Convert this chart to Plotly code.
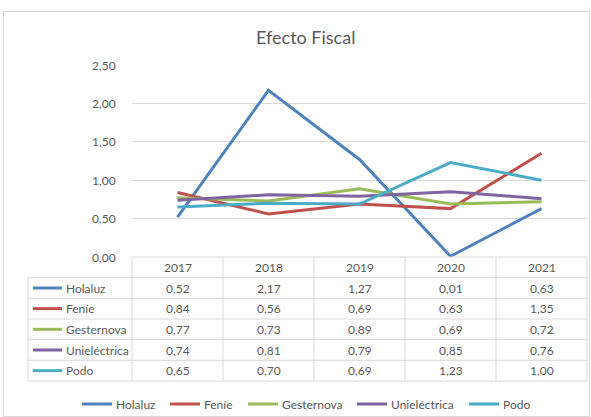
import plotly.graph_objects as go

years = ["2017", "2018", "2019", "2020", "2021"]
series_names = ["Holaluz", "Feníe", "Gesternova", "Unieléctrica", "Podo"]
holaluz = [0.52, 2.17, 1.27, 0.01, 0.63]
fenie = [0.84, 0.56, 0.69, 0.63, 1.35]
gesternova = [0.77, 0.73, 0.89, 0.69, 0.72]
unielectrica = [0.74, 0.81, 0.79, 0.85, 0.76]
podo = [0.65, 0.70, 0.69, 1.23, 1.00]
y_ticks = [0, 0.5, 1.0, 1.5, 2.0, 2.5]

series_values = [holaluz, fenie, gesternova, unielectrica, podo]
colors = ["#4F81BD", "#C0504D", "#9BBB59", "#8064A2", "#4BACC6"]

W, H = 591, 417
L, R, T, B = 132, 587, 65, 257
FONT = "Lato, 'Open Sans', sans-serif"
TXT = "#595959"
GRID = "#d9d9d9"


def px(x):
    return (x - L) / (R - L)


def py(y):
    return (B - y) / (B - T)


fig = go.Figure()
for name, vals, c in zip(series_names, series_values, colors):
    fig.add_trace(go.Scatter(x=list(range(len(years))), y=vals, name=name,
                             mode="lines", line=dict(color=c, width=3),
                             showlegend=False, hoverinfo="skip"))

shapes = []
annotations = []


def hline(x0, x1, y, color=GRID, w=1):
    shapes.append(dict(type="line", xref="paper", yref="paper",
                       x0=px(x0), x1=px(x1), y0=py(y), y1=py(y),
                       line=dict(color=color, width=w)))


def vline(x, y0, y1, color=GRID, w=1):
    shapes.append(dict(type="line", xref="paper", yref="paper",
                       x0=px(x), x1=px(x), y0=py(y0), y1=py(y1),
                       line=dict(color=color, width=w)))


def text(x, y, s, xanchor="center", size=12, color=TXT):
    annotations.append(dict(x=px(x), y=py(y), xref="paper", yref="paper",
                            text=s, showarrow=False, xanchor=xanchor,
                            yanchor="middle", font=dict(size=size, color=color, family=FONT)))


# outer chart border
shapes.append(dict(type="rect", xref="paper", yref="paper",
                   x0=px(3.5), x1=px(589.5), y0=py(11.5), y1=py(416.5),
                   line=dict(color=GRID, width=1)))

# table geometry
col_w = (R - L) / len(years)
row_top = [257, 277.7, 298.3, 319.0, 339.7, 360.3]
row_bot = 381.0
tab_left = 28

hline(L, R, row_top[0])
for yy in row_top[1:] + [row_bot]:
    hline(tab_left, R, yy)
vline(tab_left, row_top[1], row_bot)
for k in range(len(years) + 1):
    vline(L + k * col_w, row_top[0], row_bot)

for k, yr in enumerate(years):
    text(L + (k + 0.5) * col_w, (row_top[0] + row_top[1]) / 2, yr)

for i, (name, vals, c) in enumerate(zip(series_names, series_values, colors)):
    y0 = row_top[i + 1]
    y1 = row_top[i + 2] if i + 2 < len(row_top) else row_bot
    yc = (y0 + y1) / 2
    hline(33, 62, yc, color=c, w=3)
    text(64, yc, name, xanchor="left")
    for k, v in enumerate(vals):
        text(L + (k + 0.5) * col_w, yc, f"{v:.2f}".replace(".", ","))

# bottom legend
leg_x = [82, 170, 248, 357, 469]
for name, c, lx in zip(series_names, colors, leg_x):
    hline(lx, lx + 30, 404, color=c, w=3)
    text(lx + 32, 404, name, xanchor="left")

annotations.append(dict(x=px(305), y=py(37), xref="paper", yref="paper",
                        text="Efecto Fiscal", showarrow=False, xanchor="center",
                        yanchor="middle", font=dict(size=18, color=TXT, family=FONT)))

for t in y_ticks:
    text(118, B - (t / 2.5) * (B - T), f"{t:.2f}".replace(".", ","), xanchor="right")

fig.update_layout(
    width=W, height=H,
    margin=dict(l=L, r=W - R, t=T, b=H - B),
    paper_bgcolor="white", plot_bgcolor="white",
    font=dict(family=FONT, color=TXT, size=12),
    showlegend=False,
    shapes=shapes, annotations=annotations,
    xaxis=dict(range=[-0.5, len(years) - 0.5], showgrid=False, zeroline=False,
               showticklabels=False, showline=False, ticks=""),
    yaxis=dict(range=[0, 2.5], tickvals=y_ticks, showticklabels=False,
               showgrid=True, gridcolor=GRID, gridwidth=1, zeroline=False,
               showline=False, ticks=""),
)

fig.write_html("out.html", config={"displayModeBar": False},
               post_script="document.body.style.margin='0';document.body.style.padding='0';")
